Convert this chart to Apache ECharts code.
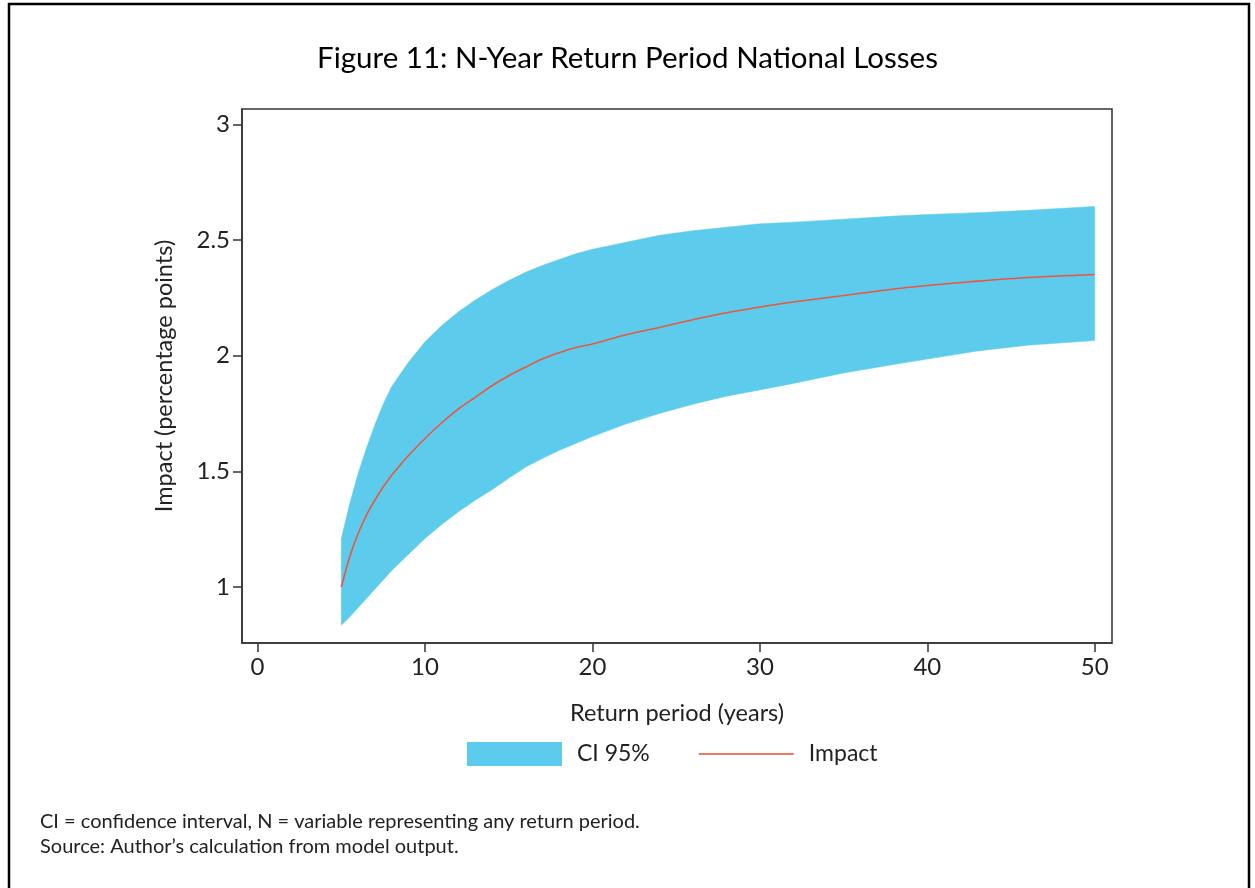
<!DOCTYPE html>
<html>
<head>
<meta charset="utf-8">
<script src="https://cdn.jsdelivr.net/npm/echarts@6/dist/echarts.min.js"></script>
<style>
html,body{margin:0;padding:0;background:#fff;}
#chart{width:1255px;height:888px;}
</style>
</head>
<body>
<div id="chart"></div>
<script>
// Return period (years)
const periods = [5, 5.5, 6, 6.5, 7, 7.5, 8, 9, 10, 11, 12, 13, 14, 15, 16, 17, 18, 19, 20, 22, 24, 26, 28, 30, 32, 35, 38, 40, 43, 46, 50];
// Central impact estimate (percentage points)
const impact = [1.00, 1.13, 1.23, 1.31, 1.375, 1.432, 1.482, 1.567, 1.642, 1.71, 1.77, 1.82, 1.87, 1.913, 1.95, 1.985, 2.012, 2.035, 2.05, 2.09, 2.122, 2.155, 2.185, 2.21, 2.232, 2.26, 2.288, 2.303, 2.322, 2.338, 2.351];
// 95% confidence interval bounds
const ciLower = [0.835, 0.87, 0.91, 0.95, 0.99, 1.03, 1.07, 1.14, 1.21, 1.27, 1.325, 1.375, 1.42, 1.47, 1.518, 1.555, 1.59, 1.62, 1.65, 1.705, 1.75, 1.79, 1.825, 1.852, 1.88, 1.925, 1.962, 1.985, 2.02, 2.045, 2.065];
const ciUpper = [1.21, 1.36, 1.49, 1.60, 1.70, 1.79, 1.865, 1.97, 2.06, 2.13, 2.19, 2.24, 2.285, 2.325, 2.36, 2.39, 2.415, 2.44, 2.46, 2.49, 2.52, 2.54, 2.555, 2.57, 2.577, 2.59, 2.603, 2.61, 2.618, 2.628, 2.645];
// Tick labels
const xTicks = [0, 10, 20, 30, 40, 50];
const yTicks = [1, 1.5, 2, 2.5, 3];

const FONT = 'Lato';
const bandData = periods.map((p, i) => [p, ciLower[i], ciUpper[i]]);
const impactPts = periods.map((p, i) => [p, impact[i]]);

function renderBand(params, api) {
  if (params.dataIndex !== 0) return null;
  const pts = [];
  for (let i = 0; i < periods.length; i++) pts.push(api.coord([periods[i], ciUpper[i]]));
  for (let i = periods.length - 1; i >= 0; i--) pts.push(api.coord([periods[i], ciLower[i]]));
  return {type: 'polygon', shape: {points: pts}, style: {fill: '#5DCCEC', stroke: '#5DCCEC', lineWidth: 0.5}};
}

const chart = echarts.init(document.getElementById('chart'), null, {renderer: 'canvas'});
chart.setOption({
  backgroundColor: '#fff',
  animation: false,
  textStyle: {fontFamily: FONT},
  title: {
    text: 'Figure 11: N-Year Return Period National Losses',
    left: 'center', top: 38,
    textStyle: {fontFamily: FONT, fontSize: 29.5, fontWeight: 'normal', color: '#000'}
  },
  grid: {left: 242, top: 109, right: 143, bottom: 245, show: true, borderColor: '#333', borderWidth: 1.5, backgroundColor: 'transparent'},
  legend: {
    bottom: 117, left: 462,
    itemWidth: 95, itemHeight: 24, itemGap: 48,
    textStyle: {fontFamily: FONT, fontSize: 23, color: '#222', padding: [0, 0, 0, 10]},
    data: [
      {name: 'CI 95%', icon: 'rect', itemStyle: {color: '#5DCCEC'}},
      {name: 'Impact', itemStyle: {opacity: 0}, lineStyle: {color: '#EE7A5F', width: 2}}
    ]
  },
  xAxis: {
    type: 'value', min: -0.93, max: 51.03,
    name: 'Return period (years)', nameLocation: 'middle', nameGap: 58,
    nameTextStyle: {fontFamily: FONT, fontSize: 23.5, color: '#222'},
    splitLine: {show: false},
    axisLine: {show: true, onZero: false, lineStyle: {color: '#333', width: 1.5}},
    axisTick: {show: true, length: 9, customValues: xTicks, lineStyle: {color: '#333', width: 1.5}},
    axisLabel: {customValues: xTicks, margin: 12, fontFamily: FONT, fontSize: 24, color: '#222'}
  },
  yAxis: {
    type: 'value', min: 0.758, max: 3.066,
    name: 'Impact (percentage points)', nameLocation: 'middle', nameGap: 66, nameRotate: 90,
    nameTextStyle: {fontFamily: FONT, fontSize: 23.5, color: '#222'},
    splitLine: {show: false},
    axisLine: {show: true, onZero: false, lineStyle: {color: '#333', width: 1.5}},
    axisTick: {show: true, length: 9, customValues: yTicks, lineStyle: {color: '#333', width: 1.5}},
    axisLabel: {customValues: yTicks, margin: 12, fontFamily: FONT, fontSize: 24, color: '#222'}
  },
  series: [
    {
      name: 'CI 95%', type: 'custom', data: bandData, renderItem: renderBand,
      itemStyle: {color: '#5DCCEC'}, encode: {x: 0, y: [1, 2]}, z: 2
    },
    {
      name: 'Impact', type: 'line', data: impactPts, symbol: 'none', smooth: 0.3,
      lineStyle: {color: '#E9573F', width: 1.6}, itemStyle: {color: '#EE7A5F'}, z: 3
    }
  ],
  graphic: [
    {type: 'rect', shape: {x: 9, y: 4, width: 1240, height: 900}, style: {fill: 'none', stroke: '#000', lineWidth: 2.5}, silent: true},
    {type: 'text', left: 40, top: 812, style: {text: 'CI = confidence interval, N = variable representing any return period.', font: '20px Lato', fill: '#222'}},
    {type: 'text', left: 40, top: 837, style: {text: 'Source: Author\u2019s calculation from model output.', font: '20px Lato', fill: '#222'}}
  ]
});
</script>
</body>
</html>
